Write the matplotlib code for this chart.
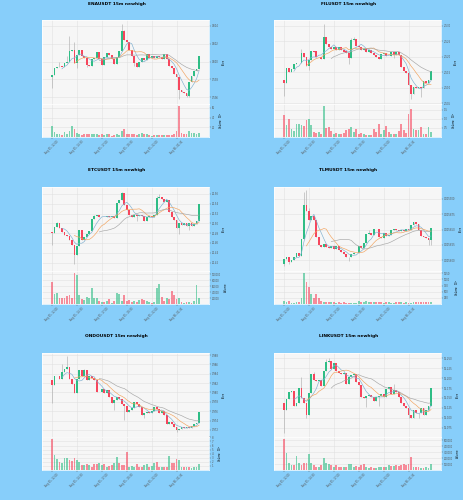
#!/usr/bin/env python3

import numpy as np
import pandas as pd
import matplotlib
matplotlib.use("Agg")
import matplotlib.pyplot as plt
from matplotlib.ticker import FormatStrFormatter

# shared time axis (15m candles)
time_ticks = [0, 10, 20, 30, 40, 50]
time_labels = ["Aug 05, 12:00", "Aug 05, 14:30", "Aug 05, 17:00",
               "Aug 05, 19:30", "Aug 05, 22:00", "Aug 06, 00:30"]

# ENAUSDT
ena_open0 = 0.59824
ena_close = [0.59850, 0.59925, 0.59935, 0.59945, 0.59940, 0.59980, 0.60000, 0.60120, 0.60125, 0.59990,
             0.60075, 0.60130, 0.60065, 0.60040, 0.59960, 0.59955, 0.60025, 0.60045, 0.60110, 0.60025,
             0.59960, 0.60050, 0.60095, 0.60075, 0.60025, 0.59970, 0.60055, 0.60120, 0.60345, 0.60245,
             0.60225, 0.60130, 0.60065, 0.59985, 0.59945, 0.60000, 0.60045, 0.60020, 0.60085, 0.60040,
             0.60060, 0.60045, 0.60065, 0.60050, 0.60025, 0.60085, 0.60025, 0.59950, 0.59930, 0.59860,
             0.59830, 0.59680, 0.59665, 0.59650, 0.59615, 0.59775, 0.59840, 0.59890, 0.59915, 0.60065]
ena_wick_hi = {3: 0.6000, 6: 0.6006, 7: 0.6029, 9: 0.6022, 28: 0.6042, 29: 0.6035, 38: 0.6009}
ena_wick_lo = {0: 0.5971, 10: 0.5993, 14: 0.5994, 33: 0.5995, 51: 0.5958, 54: 0.5960, 55: 0.5960}
ena_volume = [22, 10, 7, 7, 5, 10, 7, 12, 23, 17, 8, 7, 3.5, 7, 7, 5.5, 7, 5.5, 7, 4,
              7, 3.5, 5.5, 7, 3, 3.5, 7, 5, 12, 16, 7, 7, 7, 5.5, 3.5, 5.5, 8, 7, 5.5, 3.5,
              3, 4, 3.5, 4, 4, 3.5, 5, 4, 4, 7, 12, 63, 8, 5.5, 7, 12, 9, 8, 5.5, 8]
ena_price_ticks = [0.596, 0.598, 0.600, 0.602, 0.604]
ena_volume_ticks = [20, 40, 60]

# FILUSDT
fil_open0 = 2.5125
fil_close = [2.5114, 2.5163, 2.5152, 2.5160, 2.5176, 2.5179, 2.5181, 2.5211, 2.5200, 2.5170,
             2.5190, 2.5220, 2.5217, 2.5198, 2.5200, 2.5194, 2.5263, 2.5242, 2.5233, 2.5224,
             2.5231, 2.5222, 2.5230, 2.5222, 2.5217, 2.5211, 2.5195, 2.5255, 2.5257, 2.5235,
             2.5233, 2.5222, 2.5225, 2.5217, 2.5222, 2.5211, 2.5206, 2.5200, 2.5194, 2.5208,
             2.5213, 2.5203, 2.5201, 2.5215, 2.5205, 2.5216, 2.5205, 2.5168, 2.5154, 2.5146,
             2.5108, 2.5079, 2.5101, 2.5100, 2.5101, 2.5098, 2.5123, 2.5116, 2.5125, 2.5154]
fil_wick_hi = {7: 2.5225, 16: 2.5306, 27: 2.5262, 28: 2.5265}
fil_wick_lo = {0: 2.5073, 10: 2.5158, 26: 2.5176, 44: 2.5195, 51: 2.5062, 55: 2.5071}
fil_volume = [1.2, 0.65, 0.98, 0.46, 0.33, 0.69, 0.69, 0.65, 0.59, 0.93,
              0.98, 0.65, 0.28, 0.24, 0.28, 0.15, 1.7, 0.5, 0.56, 0.33,
              0.19, 0.22, 0.15, 0.19, 0.24, 0.37, 0.46, 0.56, 0.28, 0.46,
              0.19, 0.22, 0.15, 0.09, 0.09, 0.13, 0.46, 0.28, 0.7, 0.19,
              0.37, 0.59, 0.28, 0.15, 0.15, 0.19, 0.31, 0.7, 0.37, 0.22,
              1.26, 1.52, 0.46, 0.41, 0.37, 0.56, 0.15, 0.15, 0.56, 0.28]
fil_price_ticks = [2.505, 2.510, 2.515, 2.520, 2.525, 2.530]
fil_volume_ticks = [0.5, 1.0, 1.5]

# ETCUSDT
etc_open0 = 20.483
etc_close = [20.481, 20.493, 20.500, 20.490, 20.483, 20.476, 20.474, 20.466, 20.456, 20.436,
             20.454, 20.486, 20.466, 20.473, 20.478, 20.485, 20.509, 20.515, 20.517, 20.512,
             20.513, 20.512, 20.515, 20.513, 20.515, 20.511, 20.542, 20.547, 20.562, 20.537,
             20.527, 20.517, 20.513, 20.518, 20.515, 20.518, 20.515, 20.505, 20.512, 20.515,
             20.512, 20.516, 20.552, 20.554, 20.549, 20.544, 20.547, 20.524, 20.513, 20.507,
             20.491, 20.500, 20.497, 20.500, 20.495, 20.500, 20.495, 20.499, 20.505, 20.539]
etc_wick_hi = {2: 20.503, 17: 20.518, 28: 20.564, 42: 20.556, 43: 20.560}
etc_wick_lo = {0: 20.455, 9: 20.417, 10: 20.440, 34: 20.505, 51: 20.478, 55: 20.486}
etc_volume = [72000, 34000, 38000, 21000, 21000, 21000, 26000, 30000, 19000, 103000,
              97000, 30000, 17000, 14000, 23000, 19000, 55000, 21000, 21000, 11000,
              8000, 7000, 11000, 16000, 5000, 11000, 37000, 32000, 11000, 30000,
              9000, 14000, 7000, 11000, 7000, 15000, 16000, 14000, 11000, 7000,
              5000, 6000, 53000, 66000, 23000, 11000, 21000, 16000, 42000, 31000,
              16000, 21000, 7000, 5000, 6000, 6000, 5000, 11000, 64000, 21000]
etc_price_ticks = [20.42, 20.44, 20.46, 20.48, 20.50, 20.52, 20.54, 20.56]
etc_volume_ticks = [20000, 40000, 60000, 80000, 100000]

# TLMUSDT
tlm_open0 = 0.0057935
tlm_close = [0.0058011, 0.0058043, 0.0057973, 0.0058000, 0.0058054, 0.0058120, 0.0058065, 0.0058337, 0.0058908, 0.0058804,
             0.0058663, 0.0058717, 0.0058652, 0.0058380, 0.0058245, 0.0058206, 0.0058261, 0.0058217, 0.0058190, 0.0058228,
             0.0058174, 0.0058228, 0.0058163, 0.0058136, 0.0058092, 0.0058054, 0.0058043, 0.0058092, 0.0058109, 0.0058120,
             0.0058228, 0.0058190, 0.0058272, 0.0058424, 0.0058435, 0.0058408, 0.0058516, 0.0058505, 0.0058380, 0.0058353,
             0.0058446, 0.0058391, 0.0058408, 0.0058489, 0.0058516, 0.0058489, 0.0058478, 0.0058500, 0.0058478, 0.0058511,
             0.0058489, 0.0058582, 0.0058625, 0.0058598, 0.0058489, 0.0058391, 0.0058370, 0.0058353, 0.0058326, 0.0058527]
tlm_wick_hi = {8: 0.0059114, 9: 0.0059141, 10: 0.0058858, 34: 0.0058489, 38: 0.0058462}
tlm_wick_lo = {0: 0.0057902, 2: 0.0057935, 26: 0.0057989, 58: 0.0058244, 59: 0.0058244}
tlm_volume = [111, 83, 139, 42, 56, 83, 69, 250, 1278, 917,
              694, 417, 250, 417, 250, 139, 83, 97, 83, 69,
              69, 56, 69, 56, 69, 56, 42, 56, 42, 56,
              139, 97, 83, 111, 83, 97, 69, 83, 83, 69,
              56, 69, 83, 56, 56, 69, 83, 97, 56, 69,
              56, 56, 83, 69, 69, 83, 69, 83, 69, 69]
tlm_price_ticks = [0.005800, 0.005825, 0.005850, 0.005875, 0.005900]
tlm_volume_ticks = [250, 500, 750, 1000, 1250]

# ONDOUSDT
ondo_open0 = 0.98271
ondo_close = [0.98164, 0.98343, 0.98357, 0.98293, 0.98429, 0.98500, 0.98543, 0.98286, 0.98186, 0.97986,
              0.98286, 0.98486, 0.98343, 0.98471, 0.98271, 0.98343, 0.98307, 0.98271, 0.98000, 0.98021,
              0.98071, 0.97986, 0.98057, 0.97914, 0.97786, 0.97843, 0.97900, 0.97871, 0.97757, 0.97714,
              0.97593, 0.97629, 0.97671, 0.97807, 0.97757, 0.97686, 0.97521, 0.97571, 0.97593, 0.97557,
              0.97614, 0.97686, 0.97643, 0.97571, 0.97614, 0.97514, 0.97321, 0.97371, 0.97329, 0.97271,
              0.97200, 0.97229, 0.97271, 0.97250, 0.97257, 0.97250, 0.97286, 0.97329, 0.97357, 0.97593]
ondo_wick_hi = {4: 0.98600, 6: 0.98771, 13: 0.98500}
ondo_wick_lo = {0: 0.97786, 25: 0.97629, 29: 0.97414, 37: 0.97450, 50: 0.97150}
ondo_volume = [7.5, 3.6, 2.7, 2.0, 1.6, 2.9, 2.9, 2.5, 2.3, 3.0,
               2.5, 2.0, 1.2, 1.2, 1.4, 1.2, 0.8, 1.4, 1.5, 1.8,
               1.2, 1.5, 0.8, 1.0, 1.2, 1.6, 3.3, 1.8, 1.2, 1.2,
               4.3, 0.8, 1.0, 0.65, 1.4, 0.65, 0.8, 1.2, 1.4, 0.8,
               1.0, 1.6, 1.9, 0.8, 0.8, 0.8, 0.8, 3.4, 1.8, 1.8,
               2.7, 2.5, 0.8, 0.8, 0.65, 0.65, 0.4, 0.65, 0.8, 1.5]
ondo_price_ticks = [0.972, 0.974, 0.976, 0.978, 0.980, 0.982, 0.984, 0.986, 0.988]
ondo_volume_ticks = [1, 2, 3, 4, 5, 6, 7, 8]

# LINKUSDT
link_open0 = 16.136
link_close = [16.120, 16.148, 16.166, 16.168, 16.130, 16.138, 16.175, 16.149, 16.138, 16.107,
              16.162, 16.211, 16.196, 16.192, 16.196, 16.179, 16.217, 16.241, 16.244, 16.223,
              16.238, 16.217, 16.214, 16.210, 16.213, 16.185, 16.204, 16.208, 16.211, 16.191,
              16.183, 16.153, 16.149, 16.155, 16.158, 16.153, 16.142, 16.153, 16.155, 16.160,
              16.153, 16.172, 16.177, 16.159, 16.170, 16.166, 16.153, 16.136, 16.130, 16.124,
              16.107, 16.098, 16.120, 16.113, 16.111, 16.124, 16.107, 16.120, 16.130, 16.175]
link_wick_hi = {7: 16.204, 12: 16.215, 17: 16.248, 18: 16.250, 44: 16.185}
link_wick_lo = {0: 16.062, 9: 16.098, 33: 16.126, 38: 16.130, 50: 16.100, 54: 16.100}
link_volume = [520000, 282000, 124000, 85000, 85000, 237000, 124000, 85000, 124000, 124000,
               271000, 113000, 85000, 56000, 45000, 85000, 198000, 113000, 102000, 85000,
               56000, 85000, 45000, 56000, 45000, 56000, 102000, 102000, 45000, 68000,
               45000, 85000, 102000, 45000, 34000, 45000, 28000, 34000, 56000, 45000,
               56000, 45000, 85000, 68000, 73000, 85000, 68000, 85000, 102000, 85000,
               102000, 226000, 56000, 45000, 45000, 34000, 34000, 45000, 34000, 102000]
link_price_ticks = [16.075, 16.100, 16.125, 16.150, 16.175, 16.200, 16.225, 16.250]
link_volume_ticks = [100000, 200000, 300000, 400000, 500000]

GREEN = '#2ebd85'
RED = '#f6465d'
WICK = '#a8a8a8'
MA_COLORS = ['#7fb0d0', '#f2a35e', '#a6a6a6']
BG = '#87cefa'

W, H = 464, 500
PRICE_H, VOL_H, AX_W = 84, 33, 167

charts = [
    dict(title='ENAUSDT 15m newhigh', left=42, top=20, open0=ena_open0, close=ena_close,
         hi=ena_wick_hi, lo=ena_wick_lo, vol=ena_volume, pt=ena_price_ticks, vt=ena_volume_ticks,
         ylim=(0.59525, 0.60467), vlim=68, pfmt='%.3f', vfmt='%d', vlabel='Volume  $10^{5}$'),
    dict(title='FILUSDT 15m newhigh', left=274, top=20, open0=fil_open0, close=fil_close,
         hi=fil_wick_hi, lo=fil_wick_lo, vol=fil_volume, pt=fil_price_ticks, vt=fil_volume_ticks,
         ylim=(2.5047, 2.5319), vlim=1.82, pfmt='%.3f', vfmt='%.1f', vlabel='Volume  $10^{6}$'),
    dict(title='ETCUSDT 15m newhigh', left=42, top=187, open0=etc_open0, close=etc_close,
         hi=etc_wick_hi, lo=etc_wick_lo, vol=etc_volume, pt=etc_price_ticks, vt=etc_volume_ticks,
         ylim=(20.403, 20.574), vlim=110000, pfmt='%.2f', vfmt='%d', vlabel='Volume'),
    dict(title='TLMUSDT 15m newhigh', left=274, top=187, open0=tlm_open0, close=tlm_close,
         hi=tlm_wick_hi, lo=tlm_wick_lo, vol=tlm_volume, pt=tlm_price_ticks, vt=tlm_volume_ticks,
         ylim=(0.0057821, 0.0059196), vlim=1345, pfmt='%.6f', vfmt='%d', vlabel='Volume  $10^{3}$'),
    dict(title='ONDOUSDT 15m newhigh', left=42, top=353, open0=ondo_open0, close=ondo_close,
         hi=ondo_wick_hi, lo=ondo_wick_lo, vol=ondo_volume, pt=ondo_price_ticks, vt=ondo_volume_ticks,
         ylim=(0.9705, 0.98843), vlim=8.1, pfmt='%.3f', vfmt='%d', vlabel='Volume  $10^{5}$'),
    dict(title='LINKUSDT 15m newhigh', left=274, top=353, open0=link_open0, close=link_close,
         hi=link_wick_hi, lo=link_wick_lo, vol=link_volume, pt=link_price_ticks, vt=link_volume_ticks,
         ylim=(16.051, 16.2636), vlim=559000, pfmt='%.3f', vfmt='%d', vlabel='Volume'),
]


def style_axis(ax):
    ax.set_facecolor('#f6f6f6')
    for s in ax.spines.values():
        s.set_color('#ffffff')
        s.set_linewidth(0.5)
    ax.grid(True, color='#e1e1e1', linewidth=0.4)
    ax.set_axisbelow(True)
    ax.yaxis.tick_right()
    ax.yaxis.set_label_position('right')
    ax.tick_params(labelsize=1.8, length=1.2, width=0.3, colors='#555555', pad=1)


def draw_chart(fig, ch):
    x0 = ch['left'] / W
    ax = fig.add_axes([x0, 1 - (ch['top'] + PRICE_H) / H, AX_W / W, PRICE_H / H])
    axv = fig.add_axes([x0, 1 - (ch['top'] + PRICE_H + VOL_H) / H, AX_W / W, VOL_H / H], sharex=ax)
    style_axis(ax)
    style_axis(axv)

    c = np.array(ch['close'])
    o = np.r_[ch['open0'], c[:-1]]
    hi = np.maximum(o, c)
    lo = np.minimum(o, c)
    for i, v in ch['hi'].items():
        hi[i] = max(hi[i], v)
    for i, v in ch['lo'].items():
        lo[i] = min(lo[i], v)
    x = np.arange(len(c))
    colors = np.where(c >= o, GREEN, RED)

    span = ch['ylim'][1] - ch['ylim'][0]
    body = np.maximum(np.abs(c - o), span * 0.006)
    ax.vlines(x, lo, hi, color=WICK, linewidth=0.4, zorder=2)
    ax.bar(x, body, bottom=np.minimum(o, c), width=0.72, color=colors, linewidth=0, zorder=3)

    for n, col in zip((5, 10, 20), MA_COLORS):
        ma = pd.Series(c).rolling(n).mean()
        ax.plot(x, ma, color=col, linewidth=0.45, zorder=4)

    axv.bar(x, ch['vol'], width=0.72, color=colors, alpha=0.6, linewidth=0)

    ax.set_xlim(-4, 63)
    ax.set_ylim(*ch['ylim'])
    ax.set_yticks(ch['pt'])
    ax.yaxis.set_major_formatter(FormatStrFormatter(ch['pfmt']))
    ax.set_ylabel('Price', fontsize=1.8, labelpad=2)
    ax.tick_params(axis='x', labelbottom=False, length=0)

    axv.set_ylim(0, ch['vlim'])
    axv.set_yticks(ch['vt'])
    axv.yaxis.set_major_formatter(FormatStrFormatter(ch['vfmt']))
    axv.set_ylabel(ch['vlabel'], fontsize=1.8, labelpad=2)
    axv.set_xticks(time_ticks)
    axv.set_xticklabels(time_labels, rotation=45, fontsize=1.8)

    fig.text((ch['left'] + AX_W / 2 - 9) / W, 1 - (ch['top'] - 16.5) / H, ch['title'],
             ha='center', va='center', fontsize=3.2, fontweight='bold')


fig = plt.figure(figsize=(4.64, 5), dpi=100)
fig.patch.set_facecolor(BG)
for ch in charts:
    draw_chart(fig, ch)
fig.savefig('out.png', dpi=100, facecolor=BG)
